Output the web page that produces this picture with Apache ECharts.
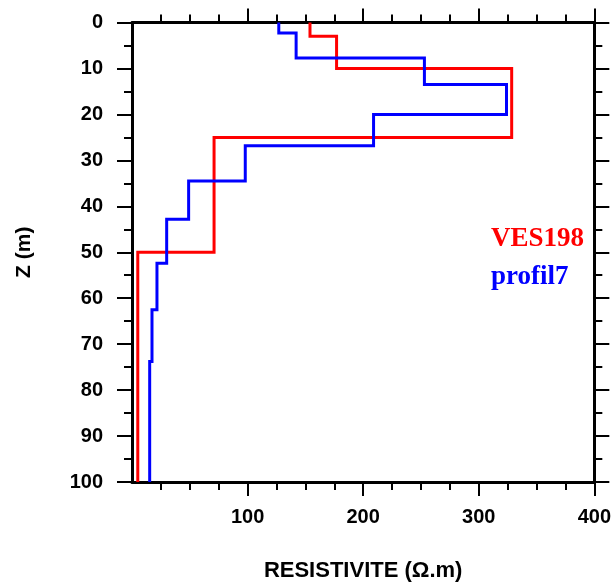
<!DOCTYPE html>
<html>
<head>
<meta charset="utf-8">
<script src="https://cdn.jsdelivr.net/npm/echarts@6/dist/echarts.min.js"></script>
<style>
html,body{margin:0;padding:0;background:#fff;}
#chart{width:614px;height:587px;}
</style>
</head>
<body>
<div id="chart"></div>
<script>
// Layered resistivity profiles: resistivity (ohm.m) of each layer and depth (m) of layer bottom
const ves198Rho    = [154, 177, 328.5, 71, 5];
const ves198Bottom = [3, 10, 25, 50, 100];
const profil7Rho    = [127, 142, 253, 324, 209, 98, 49, 30, 21.6, 17.3, 15.3];
const profil7Bottom = [2.3, 7.7, 13.5, 20, 26.8, 34.5, 42.8, 52.4, 62.5, 73.8, 100];
const xTicks = [0, 100, 200, 300, 400];
const yTicks = [0, 10, 20, 30, 40, 50, 60, 70, 80, 90, 100];
const seriesNames = ['VES198', 'profil7'];

function stepPoints(rho, bottom) {
  const pts = [];
  let top = 0;
  for (let i = 0; i < rho.length; i++) {
    pts.push([rho[i], top]);
    pts.push([rho[i], bottom[i]]);
    top = bottom[i];
  }
  return pts;
}

const labelFont = {fontFamily: '"Liberation Sans", Arial, sans-serif', fontWeight: 'bold', fontSize: 20, color: '#000'};
const lineStyle = {color: '#000', width: 3};
const tickStyle = {color: '#000', width: 2};

const chart = echarts.init(document.getElementById('chart'), null, {renderer: 'canvas'});
chart.setOption({
  backgroundColor: '#fff',
  animation: false,
  grid: {left: 132, right: 19.5, top: 22.5, bottom: 101, containLabel: false},
  xAxis: [
    {
      type: 'value', position: 'bottom', min: xTicks[0], max: xTicks[xTicks.length - 1], interval: 100,
      name: 'RESISTIVITE (\u03A9.m)', nameLocation: 'middle', nameGap: 78,
      nameTextStyle: Object.assign({}, labelFont, {fontSize: 22}),
      axisLine: {show: true, onZero: false, lineStyle: lineStyle},
      axisTick: {show: true, inside: false, length: 14, lineStyle: tickStyle, customValues: xTicks.slice(1)},
      minorTick: {show: true, splitNumber: 4, length: 8, lineStyle: tickStyle},
      axisLabel: Object.assign({}, labelFont, {margin: 25, customValues: xTicks.slice(1)}),
      splitLine: {show: false}
    },
    {
      type: 'value', position: 'top', min: xTicks[0], max: xTicks[xTicks.length - 1], interval: 100,
      axisLine: {show: true, onZero: false, lineStyle: lineStyle},
      axisTick: {show: true, inside: false, length: 14, lineStyle: tickStyle, customValues: xTicks.slice(1)},
      minorTick: {show: true, splitNumber: 4, length: 8, lineStyle: tickStyle},
      axisLabel: {show: false},
      splitLine: {show: false}
    }
  ],
  yAxis: [
    {
      type: 'value', position: 'left', inverse: true, min: yTicks[0], max: yTicks[yTicks.length - 1], interval: 10,
      name: 'Z (m)', nameLocation: 'middle', nameGap: 97, nameRotate: 90,
      nameTextStyle: Object.assign({}, labelFont, {fontSize: 21}),
      axisLine: {show: true, onZero: false, lineStyle: lineStyle},
      axisTick: {show: true, inside: false, length: 15, lineStyle: tickStyle},
      minorTick: {show: true, splitNumber: 2, length: 8, lineStyle: tickStyle},
      axisLabel: Object.assign({}, labelFont, {margin: 29}),
      splitLine: {show: false}
    },
    {
      type: 'value', position: 'right', inverse: true, min: yTicks[0], max: yTicks[yTicks.length - 1], interval: 10,
      axisLine: {show: true, onZero: false, lineStyle: lineStyle},
      axisTick: {show: true, inside: false, length: 15, lineStyle: tickStyle},
      minorTick: {show: true, splitNumber: 2, length: 8, lineStyle: tickStyle},
      axisLabel: {show: false},
      splitLine: {show: false}
    }
  ],
  series: [
    {
      name: seriesNames[0], type: 'line', xAxisIndex: 0, yAxisIndex: 0,
      data: stepPoints(ves198Rho, ves198Bottom),
      showSymbol: false, symbol: 'none',
      lineStyle: {color: '#ff0000', width: 3, join: 'miter', cap: 'butt'},
      itemStyle: {color: '#ff0000'}
    },
    {
      name: seriesNames[1], type: 'line', xAxisIndex: 0, yAxisIndex: 0,
      data: stepPoints(profil7Rho, profil7Bottom),
      showSymbol: false, symbol: 'none',
      lineStyle: {color: '#0000ff', width: 3, join: 'miter', cap: 'butt'},
      itemStyle: {color: '#0000ff'}
    }
  ],
  graphic: [
    {type: 'text', left: 491, top: 226, style: {text: seriesNames[0], fill: '#ff0000',
      font: 'bold 27px "Liberation Serif", "Times New Roman", serif'}},
    {type: 'text', left: 491, top: 264, style: {text: seriesNames[1], fill: '#0000ff',
      font: 'bold 27px "Liberation Serif", "Times New Roman", serif'}}
  ]
});
</script>
</body>
</html>
